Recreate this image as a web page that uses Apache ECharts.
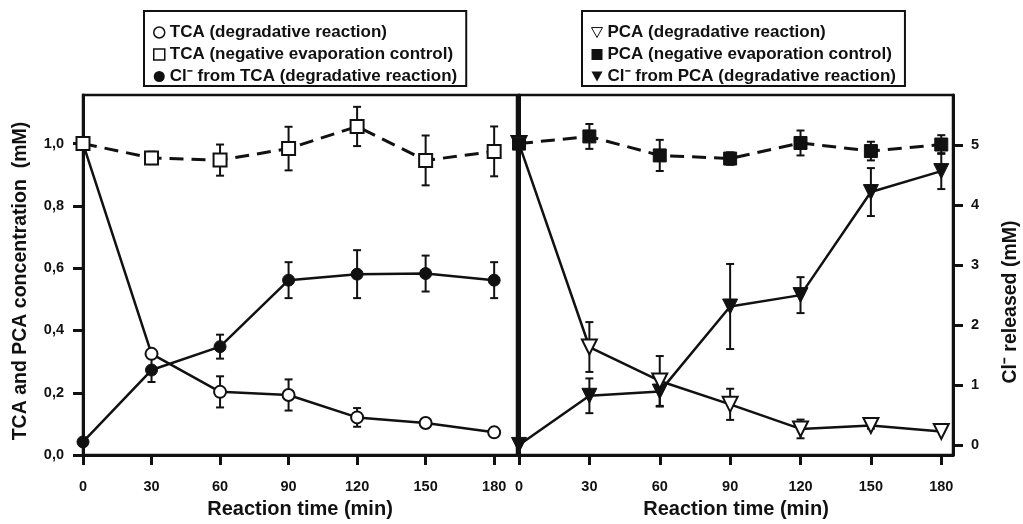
<!DOCTYPE html>
<html>
<head>
<meta charset="utf-8">
<title>TCA / PCA degradation</title>
<script src="https://cdn.jsdelivr.net/npm/echarts@6.0.0/dist/echarts.min.js"></script>
<style>
  html, body { margin: 0; padding: 0; background: #fff; }
  #chart { width: 1023px; height: 524px; }
</style>
</head>
<body>
<div id="chart"></div>
<script>
// sampling times (min)
var times = [0, 30, 60, 90, 120, 150, 180];
var xTicks = [0, 30, 60, 90, 120, 150, 180];
var concTicks = [0, 0.2, 0.4, 0.6, 0.8, 1.0];
var clTicks = [0, 1, 2, 3, 4, 5];

// left panel - TCA (mM) and chloride released (mM)
var tcaDeg = [1.0, 0.325, 0.203, 0.193, 0.121, 0.103, 0.073];
var tcaDegErr = [0, 0, 0.05, 0.05, 0.03, 0.015, 0.015];
var tcaCtrl = [1.0, 0.954, 0.947, 0.984, 1.055, 0.946, 0.975];
var tcaCtrlErr = [0, 0.02, 0.05, 0.07, 0.063, 0.08, 0.08];
var clTca = [0.05, 1.25, 1.64, 2.75, 2.85, 2.86, 2.75];
var clTcaErr = [0, 0.2, 0.2, 0.3, 0.4, 0.3, 0.3];

// right panel - PCA (mM) and chloride released (mM)
var pcaDeg = [1.0, 0.347, 0.238, 0.163, 0.084, 0.095, 0.076];
var pcaDegErr = [0, 0.08, 0.08, 0.05, 0.03, 0.01, 0];
var pcaCtrl = [1.0, 1.023, 0.962, 0.952, 1.002, 0.976, 0.997];
var pcaCtrlErr = [0, 0.04, 0.05, 0.02, 0.04, 0.03, 0.03];
var clPca = [0.0, 0.82, 0.89, 2.31, 2.5, 4.22, 4.57];
var clPcaErr = [0, 0.29, 0.25, 0.71, 0.3, 0.4, 0.3];

var INK = '#111';
var FONT = '"Liberation Sans", Arial, sans-serif';
var DOWN_TRI = 'path://M0,0 L10,0 L5,9 Z';

function pairs(vals) {
	return times.map(function (t, i) { return [t, vals[i]]; });
}
function errPairs(vals, errs) {
	return times.map(function (t, i) { return [t, vals[i], errs[i]]; });
}

/**
 * vertical error bar with caps
 */
function renderErr(params, api) {
	var x = api.value(0), y = api.value(1), e = api.value(2);
	if (!e) {
		return null;
	}
	var hi = api.coord([x, y + e]);
	var lo = api.coord([x, y - e]);
	var w = 4;
	var st = { stroke: INK, lineWidth: 2 };
	return {
		type: 'group',
		children: [
			{ type: 'line', shape: { x1: hi[0], y1: hi[1], x2: lo[0], y2: lo[1] }, style: st },
			{ type: 'line', shape: { x1: hi[0] - w, y1: hi[1], x2: hi[0] + w, y2: hi[1] }, style: st },
			{ type: 'line', shape: { x1: lo[0] - w, y1: lo[1], x2: lo[0] + w, y2: lo[1] }, style: st }
		]
	};
}

function errSeries(xi, yi, vals, errs) {
	return {
		type: 'custom',
		xAxisIndex: xi,
		yAxisIndex: yi,
		renderItem: renderErr,
		data: errPairs(vals, errs),
		clip: false,
		silent: true,
		z: 2
	};
}

function lineSeries(name, xi, yi, vals, symbol, open, dashed, rotate) {
	return {
		name: name,
		type: 'line',
		xAxisIndex: xi,
		yAxisIndex: yi,
		data: pairs(vals),
		symbol: symbol,
		symbolSize: symbol === 'rect' ? 13 : (symbol === 'triangle' ? 15 : 12),
		symbolRotate: rotate || 0,
		showAllSymbol: true,
		clip: false,
		itemStyle: open ? { color: '#fff', borderColor: INK, borderWidth: 2 } : { color: INK, borderColor: INK, borderWidth: 1 },
		lineStyle: { color: INK, width: dashed ? 3 : 2.5, type: dashed ? [14, 8] : 'solid' },
		emphasis: { disabled: true },
		z: 3
	};
}

function xAxisFor(gi, max) {
	return {
		type: 'value',
		gridIndex: gi,
		min: 0,
		max: max,
		name: 'Reaction time (min)',
		nameLocation: 'middle',
		nameGap: 41,
		nameTextStyle: { color: INK, fontFamily: FONT, fontWeight: 'bold', fontSize: 20 },
		axisLine: { onZero: false, lineStyle: { color: INK, width: 3 } },
		axisTick: { customValues: xTicks, length: 10, lineStyle: { color: INK, width: 3 } },
		axisLabel: { customValues: xTicks, margin: 24, color: INK, fontFamily: FONT, fontWeight: 'bold', fontSize: 14.5 },
		splitLine: { show: false }
	};
}

var legendText = { color: INK, fontFamily: FONT, fontWeight: 'bold', fontSize: 17 };

var option = {
	animation: false,
	backgroundColor: '#fff',
	grid: [
		{ left: 83, top: 95, width: 434, height: 363, show: true, borderColor: INK, borderWidth: 2.5, backgroundColor: 'transparent' },
		{ left: 519, top: 95, width: 434, height: 363, show: true, borderColor: INK, borderWidth: 2.5, backgroundColor: 'transparent' }
	],
	legend: [{
		orient: 'vertical',
		left: 144,
		top: 11,
		padding: [13, 9, 1, 9],
		itemWidth: 11,
		itemHeight: 11,
		itemGap: 5,
		borderColor: INK,
		borderWidth: 2,
		selectedMode: false,
		textStyle: legendText,
		data: [
			{ name: 'TCA (degradative reaction)', icon: 'circle', itemStyle: { color: '#fff', borderColor: INK, borderWidth: 1.5 } },
			{ name: 'TCA (negative evaporation control)', icon: 'rect', itemStyle: { color: '#fff', borderColor: INK, borderWidth: 1.5 } },
			{ name: 'Cl\u207B from TCA (degradative reaction)', icon: 'circle', itemStyle: { color: INK, borderWidth: 0 } }
		]
	}, {
		orient: 'vertical',
		left: 582,
		top: 11,
		padding: [13, 9, 1, 9],
		itemWidth: 11,
		itemHeight: 11,
		itemGap: 5,
		borderColor: INK,
		borderWidth: 2,
		selectedMode: false,
		textStyle: legendText,
		data: [
			{ name: 'PCA (degradative reaction)', icon: DOWN_TRI, itemStyle: { color: '#fff', borderColor: INK, borderWidth: 1 } },
			{ name: 'PCA (negative evaporation control)', icon: 'rect', itemStyle: { color: INK, borderWidth: 0 } },
			{ name: 'Cl\u207B from PCA (degradative reaction)', icon: DOWN_TRI, itemStyle: { color: INK, borderWidth: 0 } }
		]
	}],
	xAxis: [xAxisFor(0, 190), xAxisFor(1, 185)],
	yAxis: [{
		// left panel concentration
		type: 'value',
		gridIndex: 0,
		min: 0,
		max: 1.156,
		name: 'TCA and PCA concentration  (mM)',
		nameLocation: 'middle',
		nameGap: 52,
		nameTextStyle: { color: INK, fontFamily: FONT, fontWeight: 'bold', fontSize: 19.5, padding: [0, 12, 0, 0] },
		axisLine: { lineStyle: { color: INK, width: 3 } },
		axisTick: { customValues: concTicks, length: 10, lineStyle: { color: INK, width: 3 } },
		axisLabel: {
			customValues: concTicks, margin: 19, color: INK, fontFamily: FONT, fontWeight: 'bold', fontSize: 14.5,
			formatter: function (v) { return v.toFixed(1).replace('.', ','); }
		},
		splitLine: { show: false }
	}, {
		// hidden chloride scale for left panel
		type: 'value',
		gridIndex: 0,
		position: 'right',
		min: -0.17,
		max: 5.84,
		show: false
	}, {
		// right panel concentration (no labels)
		type: 'value',
		gridIndex: 1,
		min: 0,
		max: 1.156,
		axisLine: { lineStyle: { color: INK, width: 3 } },
		axisTick: { show: false },
		axisLabel: { show: false },
		splitLine: { show: false }
	}, {
		// chloride released
		type: 'value',
		gridIndex: 1,
		position: 'right',
		min: -0.17,
		max: 5.84,
		name: 'Cl\u207B released (mM)',
		nameLocation: 'middle',
		nameGap: 48,
		nameTextStyle: { color: INK, fontFamily: FONT, fontWeight: 'bold', fontSize: 19.5, padding: [0, 54, 0, 0] },
		axisLine: { lineStyle: { color: INK, width: 3 } },
		axisTick: { customValues: clTicks, length: 10, lineStyle: { color: INK, width: 3 } },
		axisLabel: { customValues: clTicks, margin: 18, color: INK, fontFamily: FONT, fontWeight: 'bold', fontSize: 14.5 },
		splitLine: { show: false }
	}],
	series: [
		errSeries(0, 0, tcaCtrl, tcaCtrlErr),
		errSeries(0, 0, tcaDeg, tcaDegErr),
		errSeries(0, 1, clTca, clTcaErr),
		errSeries(1, 2, pcaCtrl, pcaCtrlErr),
		errSeries(1, 2, pcaDeg, pcaDegErr),
		errSeries(1, 3, clPca, clPcaErr),
		lineSeries('Cl\u207B from TCA (degradative reaction)', 0, 1, clTca, 'circle', false, false),
		lineSeries('TCA (degradative reaction)', 0, 0, tcaDeg, 'circle', true, false),
		lineSeries('TCA (negative evaporation control)', 0, 0, tcaCtrl, 'rect', true, true),
		lineSeries('Cl\u207B from PCA (degradative reaction)', 1, 3, clPca, 'triangle', false, false, 180),
		lineSeries('PCA (degradative reaction)', 1, 2, pcaDeg, 'triangle', true, false, 180),
		lineSeries('PCA (negative evaporation control)', 1, 2, pcaCtrl, 'rect', false, true)
	]
};

var myChart = echarts.init(document.getElementById('chart'));
myChart.setOption(option);
</script>
</body>
</html>
